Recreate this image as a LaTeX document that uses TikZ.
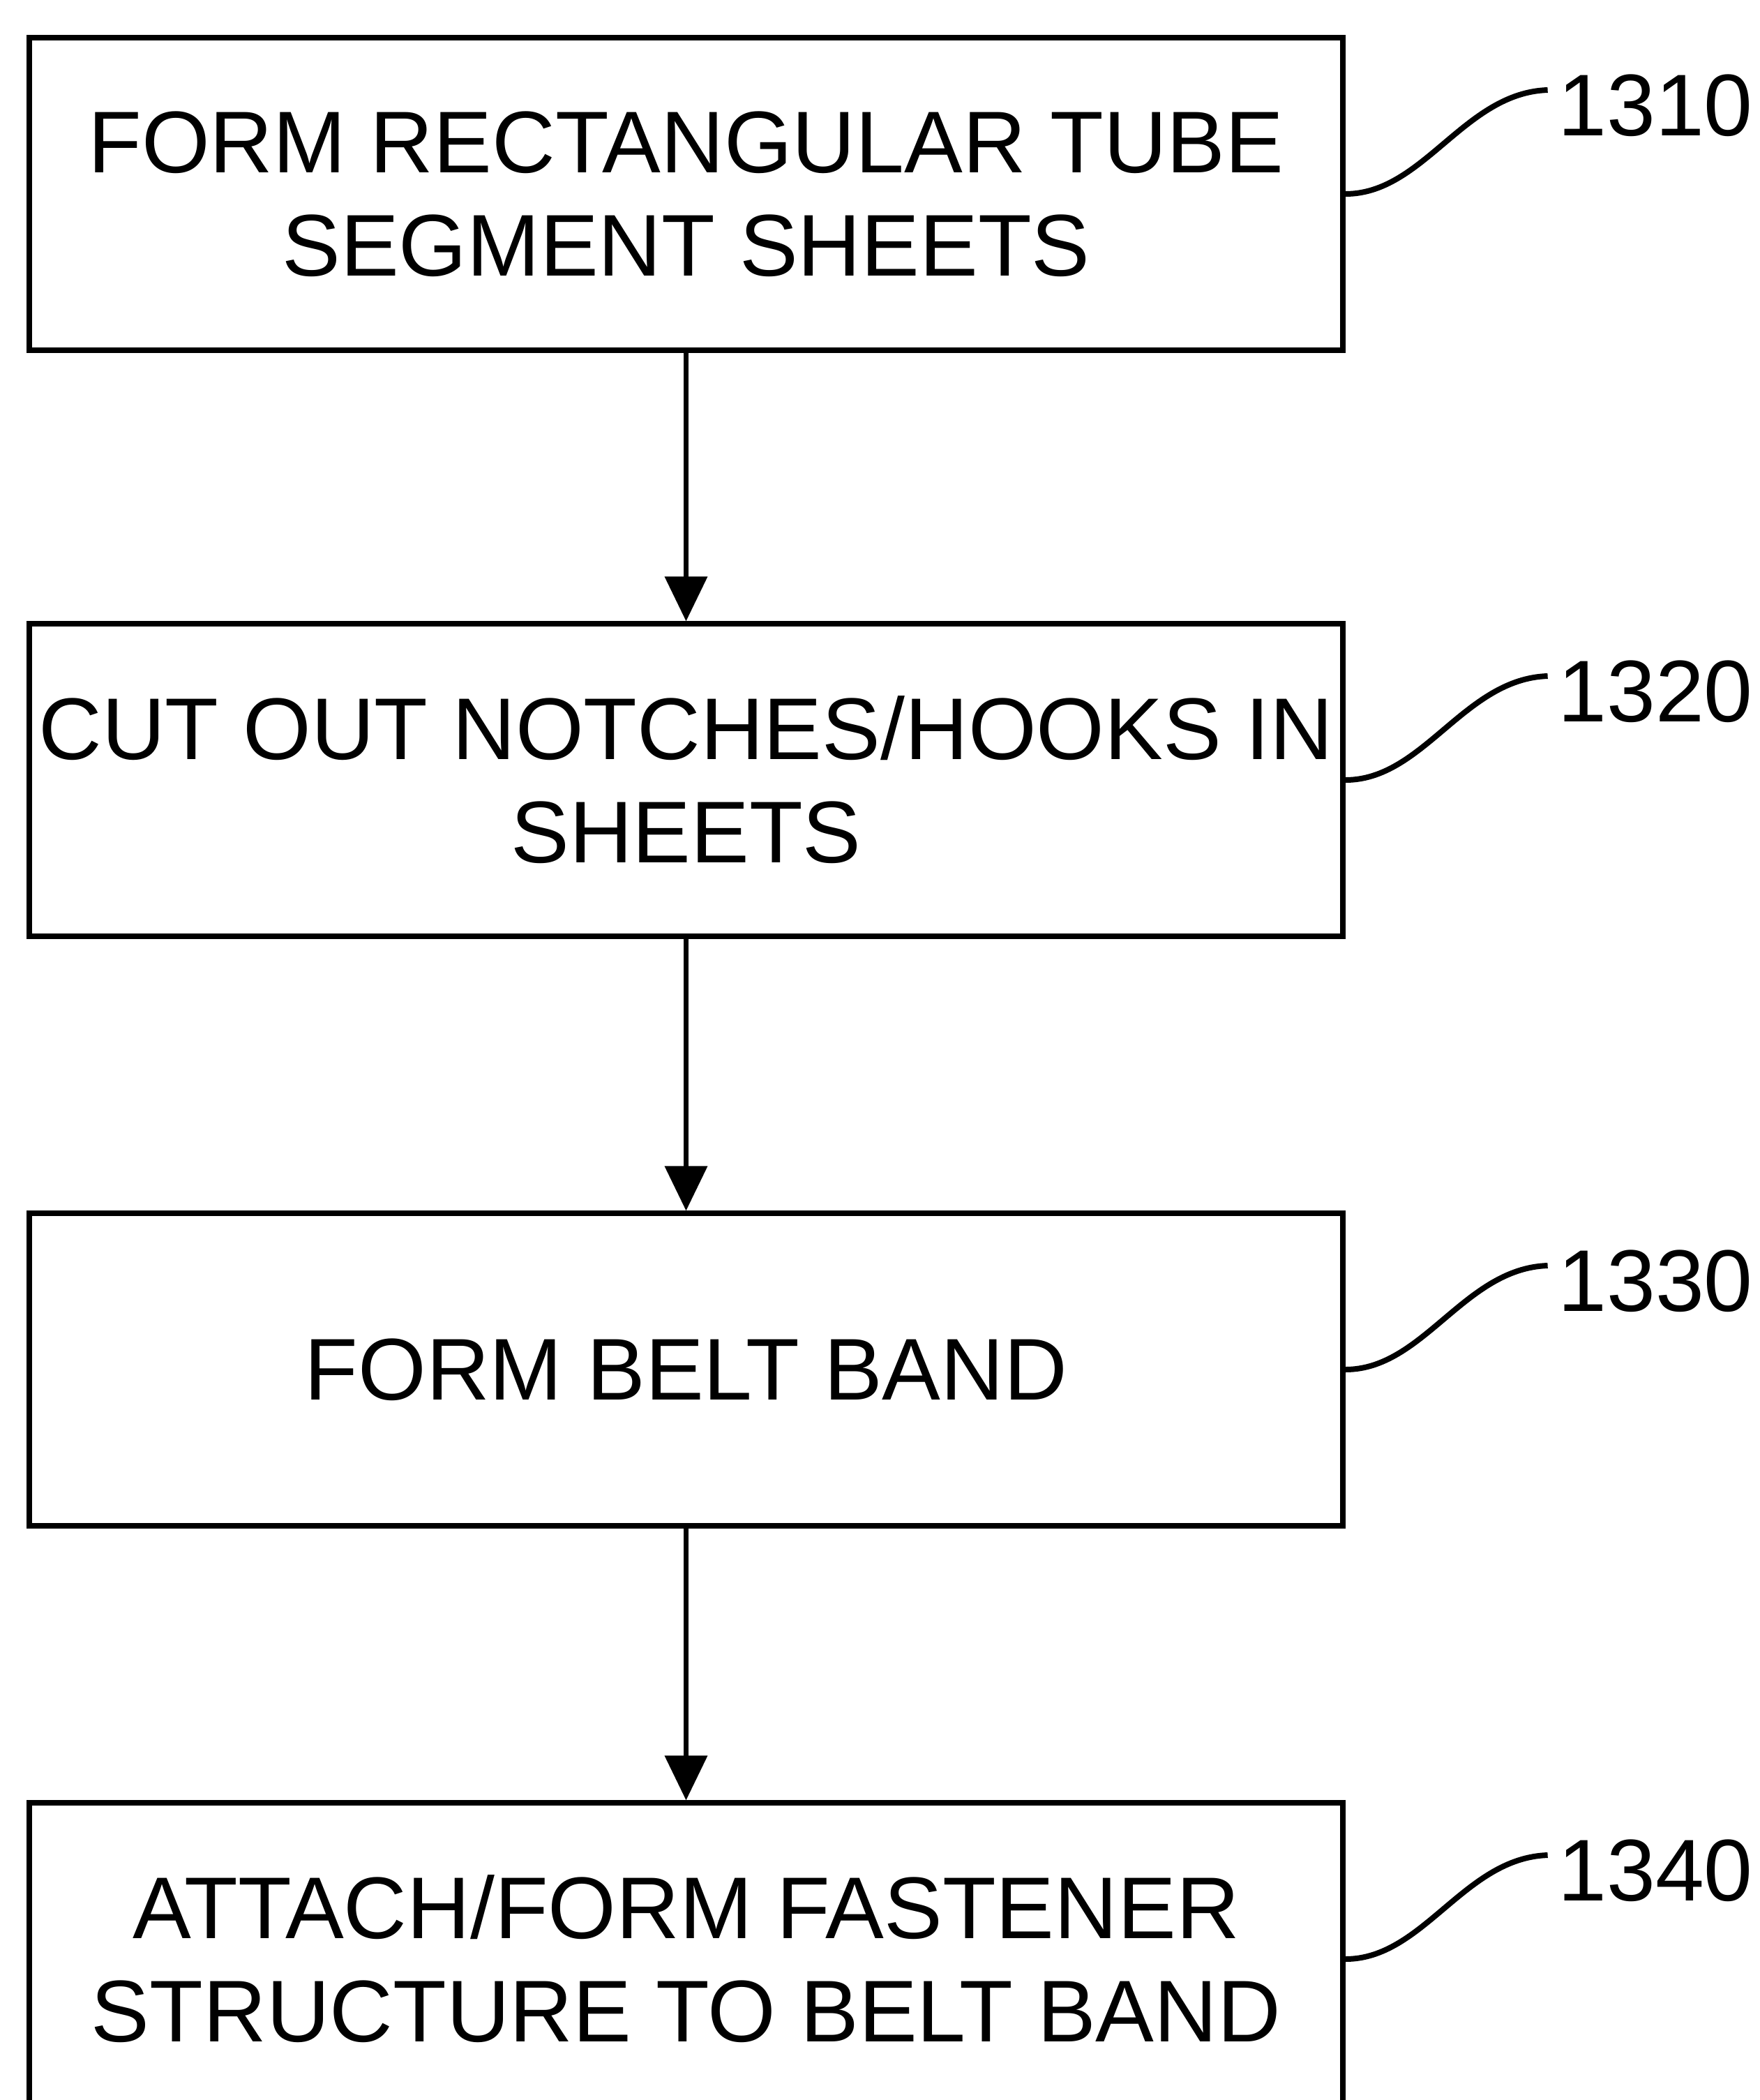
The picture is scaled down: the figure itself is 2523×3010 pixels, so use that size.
\documentclass[tikz,border=0pt]{standalone}
\usepackage{fontspec}
\setmainfont{Liberation Sans}
\usetikzlibrary{arrows.meta}
\begin{document}
\begin{tikzpicture}[x=0.25pt,y=-0.25pt,
  stepbox/.style={draw,line width=1.8pt,minimum width=470.75pt,minimum height=112pt,inner sep=0pt,align=center,font=\fontsize{31.4}{37}\selectfont},
  reflabel/.style={anchor=base west,inner sep=0pt,font=\fontsize{31.4}{37}\selectfont},
  leader/.style={line width=2pt},
  flow/.style={line width=1.8pt,-{Triangle[length=16pt,width=15pt]}}]
\useasboundingbox (0,0) rectangle (2523,3010);
\node[stepbox] (b1) at (983.5,278) {FORM RECTANGULAR TUBE\\SEGMENT SHEETS};
\node[stepbox] (b2) at (983.5,1118) {CUT OUT NOTCHES/HOOKS IN\\SHEETS};
\node[stepbox] (b3) at (983.5,1963) {FORM BELT BAND};
\node[stepbox] (b4) at (983.5,2808) {ATTACH/FORM FASTENER\\STRUCTURE TO BELT BAND};
\draw[flow] (b1.south) -- (b2.north);
\draw[flow] (b2.south) -- (b3.north);
\draw[flow] (b3.south) -- (b4.north);
\foreach \b/\t in {b1/1310,b2/1320,b3/1330,b4/1340}{
  \coordinate (e\b) at ([xshift=72.5pt,yshift=37.25pt]\b.east);
  \node[reflabel] (l\b) at ([xshift=76pt,yshift=21pt]\b.east) {\t};
  \draw[leader] (\b.east) .. controls +(28pt,0pt) and +(-30pt,-1pt) .. (e\b);
}
\end{tikzpicture}
\end{document}
